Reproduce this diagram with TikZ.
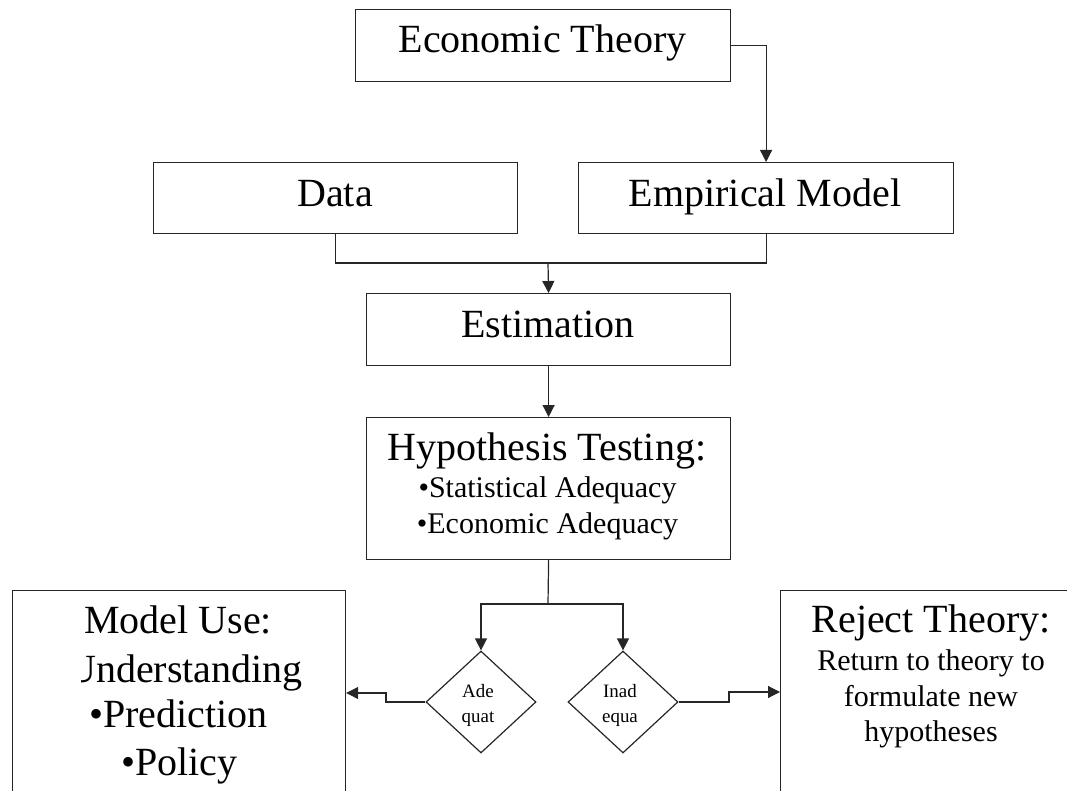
\documentclass[tikz,border=0pt]{standalone}
\usepackage{fontspec}
\setmainfont{Liberation Serif}
\usetikzlibrary{shapes.geometric,arrows.meta}
\begin{document}
\begin{tikzpicture}[x=0.75pt,y=-0.75pt,
  line/.style={draw=black!85,line width=0.9pt},
  arr/.style={line,-{Triangle[length=9pt,width=9pt]}},
  box/.style 2 args={line,rectangle,inner sep=0pt,anchor=north west,
    minimum width=#1*0.75pt,minimum height=#2*0.75pt},
  dia/.style={line,shape=diamond,inner sep=0pt,
    minimum width=110*0.75pt,minimum height=102*0.75pt},
  big/.style={inner sep=0pt,anchor=base,font=\fontsize{30}{36}\selectfont},
  small/.style={inner sep=0pt,anchor=base,font=\fontsize{22.5}{27}\selectfont},
  tiny/.style={inner sep=0pt,anchor=base,font=\fontsize{14.2}{17}\selectfont}]
\useasboundingbox (0,0) rectangle (1067,791);
\clip (0,0) rectangle (1067,791);

% boxes
\node[box={375}{72}] (econ) at (355,9) {};
\node[box={364}{71}] (data) at (153,162) {};
\node[box={375}{71}] (emp) at (578,162) {};
\node[box={364}{72}] (est) at (366,293) {};
\node[box={364}{142}] (hyp) at (366,417) {};
\node[box={333}{230}] (use) at (12,590) {};
\node[box={303}{230}] (rej) at (780,590) {};
\node[dia] (ade) at (481,702) {};
\node[dia] (inad) at (623,702) {};

% texts
\node[big] (t1) at (542.5,53) {Economic Theory};
\node[big] (t2) at (335,207) {Data};
\node[big] (t3) at (765,207) {Empirical Model};
\node[big] (t4) at (548,338) {Estimation};
\node[big] (t5) at (547,460) {Hypothesis Testing:};
\node[small] (t6) at (547.5,497) {•Statistical Adequacy};
\node[small] (t7) at (547.5,533) {•Economic Adequacy};
\node[big] (t8) at (178,633) {Model Use:};
\begin{scope}
  \clip (81,640) rectangle (340,700);
  \node[big,anchor=base east] (t9) at (303,682) {Understanding};
\end{scope}
\node[big] (t10) at (178.5,727) {•Prediction};
\node[big] (t11) at (179.5,775) {•Policy};
\node[big] (t12) at (931,632) {Reject Theory:};
\node[small] (t13) at (931,670) {Return to theory to};
\node[small] (t14) at (931,706) {formulate new};
\node[small] (t15) at (931,741) {hypotheses};
\node[tiny] (t16) at (478,697) {Ade};
\node[tiny] (t17) at (478,722) {quat};
\node[tiny] (t18) at (620,697) {Inad};
\node[tiny] (t19) at (620,722) {equa};

% connectors
\draw[arr] (econ.east) -| (emp.north);
\coordinate (j1) at (548,263);
\draw[line] (data.south) |- (j1) -| (emp.south);
\draw[arr] (j1) -- (est.north);
\draw[arr] (est.south) -- (hyp.north);
\coordinate (j2) at (548,604);
\draw[line] (hyp.south) -- (j2);
\draw[arr] (j2) -| (ade.north);
\draw[arr] (j2) -| (inad.north);
\coordinate (l1) at (386,693);
\draw[arr] (ade.west) -| (l1) -- (l1 -| use.east);
\coordinate (r1) at (729,692);
\draw[arr] (inad.east) -| (r1) -- (r1 -| rej.west);
\end{tikzpicture}
\end{document}
